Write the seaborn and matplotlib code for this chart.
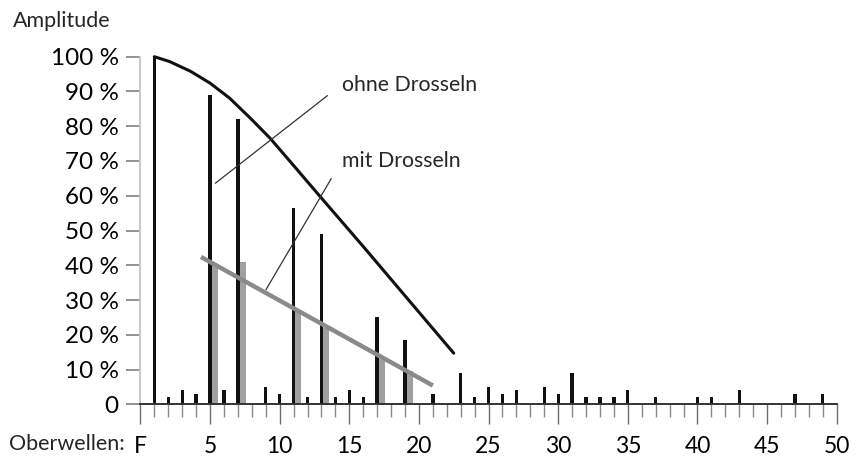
import numpy as np
import seaborn as sns
import matplotlib
matplotlib.use("Agg")
import matplotlib.pyplot as plt

# harmonics without chokes (black bars), fundamental = 1
ohne_harm = [1, 2, 3, 4, 5, 6, 7, 9, 10, 11, 12, 13, 14, 15, 16, 17, 19, 21, 23, 24, 25,
             26, 27, 29, 30, 31, 32, 33, 34, 35, 37, 40, 41, 43, 47, 49]
ohne_vals = [100, 2, 4, 3, 89, 4, 82, 5, 3, 56.5, 2, 49, 2, 4, 2, 25, 18.5, 3, 9, 2, 5,
             3, 4, 5, 3, 9, 2, 2, 2, 4, 2, 2, 2, 4, 3, 3]

# harmonics with chokes (grey bars)
mit_harm = [5, 7, 11, 13, 17, 19]
mit_vals = [40, 41, 27, 22, 13, 9.5]

# envelope without chokes
env_x = [1, 2.1, 3.6, 5, 6.4, 7.9, 9.3, 10.7, 12.9, 16, 22.5]
env_y = [100, 98.6, 95.8, 92.4, 88.1, 82.3, 76.6, 70.1, 59.8, 45.4, 14.7]

# trend with chokes
trend_x = [4.35, 21.0]
trend_y = [42.4, 5.4]

x_ticks = [0, 5, 10, 15, 20, 25, 30, 35, 40, 45, 50]
x_labels = ["F", "5", "10", "15", "20", "25", "30", "35", "40", "45", "50"]
y_ticks = list(range(0, 101, 10))
y_labels = ["0"] + [f"{v} %" for v in y_ticks[1:]]

sns.set_style("ticks")
plt.rcParams["font.family"] = ["Lato", "DejaVu Sans"]
narrow = ["Liberation Sans Narrow", "Lato", "DejaVu Sans"]

W, H = 865, 457
fig = plt.figure(figsize=(W / 100, H / 100), dpi=100)
x0, x1, y0, y1 = 140.4, 836.7, 404.3, 56.7
ax = fig.add_axes([x0 / W, (H - y0) / H, (x1 - x0) / W, (y0 - y1) / H])

# grey bars sit just right of the black ones
sns.barplot(x=[h + 0.35 for h in mit_harm], y=mit_vals, native_scale=True, width=0.43 / 2,
            color="#a0a0a0", saturation=1, linewidth=0, errorbar=None, ax=ax)
sns.barplot(x=ohne_harm, y=ohne_vals, native_scale=True, width=0.24,
            color="#111111", saturation=1, linewidth=0, errorbar=None, ax=ax)

sns.lineplot(x=trend_x, y=trend_y, sort=False, color="#8a8a8a", linewidth=3.2,
             solid_capstyle="butt", ax=ax)
sns.lineplot(x=env_x, y=env_y, sort=False, color="#111111", linewidth=2.2, ax=ax,
             clip_on=False)

arrow = dict(arrowstyle="-", color="#333333", lw=0.9, shrinkA=10, shrinkB=0,
             relpos=(0, 0.5))
ax.annotate("ohne Drosseln", xy=(5.38, 63.6), xytext=(14.45, 92.0),
            ha="left", va="center", fontsize=15.3, arrowprops=arrow)
ax.annotate("mit Drosseln", xy=(9.02, 33.0), xytext=(14.45, 70.0),
            ha="left", va="center", fontsize=15.3, arrowprops=arrow)

ax.set_xlim(0, 50)
ax.set_ylim(0, 100)
ax.set_xlabel("")
ax.set_ylabel("")

ax.set_xticks(x_ticks)
ax.set_xticklabels(x_labels, family=narrow)
ax.set_xticks(range(0, 51), minor=True)
ax.set_yticks(y_ticks)
ax.set_yticklabels(y_labels, family=narrow)

ax.tick_params(axis="x", which="major", length=14.4, width=1.0, color="#6e6e6e",
               pad=8.5, labelsize=16.5, labelcolor="black")
ax.tick_params(axis="x", which="minor", length=9.4, width=1.0, color="#8a8a8a")
ax.tick_params(axis="y", which="major", length=10, width=1.2, color="#808080",
               pad=5.5, labelsize=17.5, labelcolor="black")

for side in ["top", "right"]:
    ax.spines[side].set_visible(False)
ax.spines["left"].set_color("#c4c4c4")
ax.spines["left"].set_linewidth(1.3)
ax.spines["bottom"].set_color("#333333")
ax.spines["bottom"].set_linewidth(1.4)
ax.spines["bottom"].set_zorder(5)

fig.text(13 / W, 1 - 21 / H, "Amplitude", ha="left", va="center", fontsize=15.5)
fig.text(9 / W, 1 - 444 / H, "Oberwellen:", ha="left", va="center", fontsize=15.5)

fig.savefig("out.png", dpi=100)
